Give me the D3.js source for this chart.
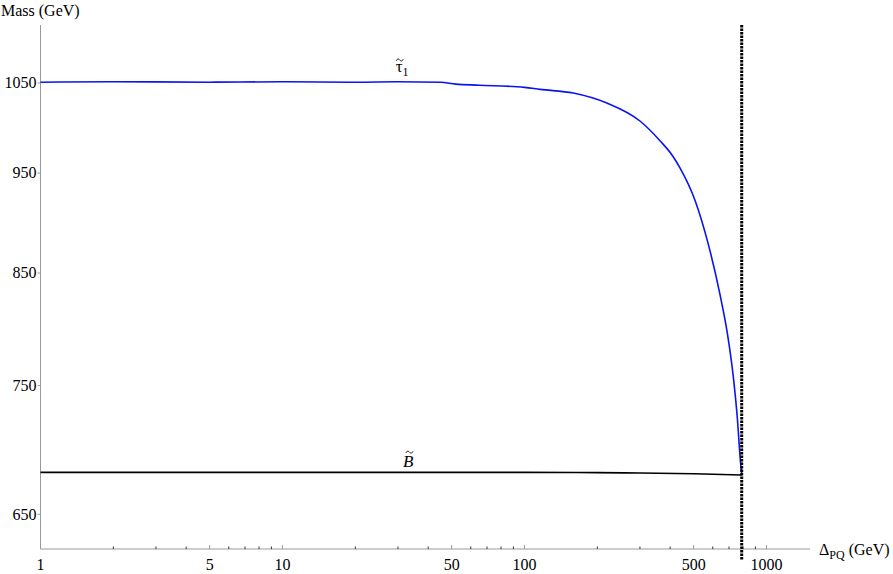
<!DOCTYPE html>
<html>
<head>
<meta charset="utf-8">
<script src="https://cdn.jsdelivr.net/npm/d3@7"></script>
<style>
  body { margin: 0; background: #fff; }
  svg { font-family: "Liberation Serif", "DejaVu Serif", serif; }
  .tick text { font-size: 16px; fill: #000; }
</style>
</head>
<body>
<svg width="893" height="574"></svg>
<script>
// x: Delta_PQ (GeV), y: mass (GeV)
var stauX = [1, 2, 5, 10, 20, 30, 45, 52, 65, 100, 116, 159, 219, 300, 363, 411, 439, 506, 573, 643, 689, 729, 757, 782, 790];
var stauY = [1051, 1051.5, 1051, 1051.5, 1051, 1051.5, 1051, 1048.7, 1047.5, 1045, 1042.6, 1038.4, 1026.9, 1006.6, 984.8, 967.7, 955.5, 922, 879, 829.6, 795, 757.7, 724.5, 687.8, 680];
var binoX = [1, 10, 100, 200, 300, 500, 790];
var binoY = [681, 681, 681, 680.8, 680.5, 680, 679];
var pqLimit = 790;
var xTicks = [1, 5, 10, 50, 100, 500, 1000];
var yTicks = [650, 750, 850, 950, 1050];

var svg = d3.select("svg");

var x = d3.scaleLog().domain([1, 1513]).range([40.5, 810]),
    y = d3.scaleLog().domain([625.4, 1120]).range([549, 25]);

// minor log ticks
var minor = [];
for (var dec = 1; dec <= 1000; dec *= 10) {
  for (var m = 2; m <= 9; m++) {
    if (m != 5 && dec * m < 1513) minor.push(dec * m);
  }
}

var axisColor = "#9a9a9a";

// x axis
var gx = svg.append("g").attr("transform", "translate(0,549)");
gx.append("line").attr("x1", 40.5).attr("x2", 810).attr("stroke", axisColor);
gx.selectAll(".minor").data(minor).enter().append("line")
  .attr("x1", function(d){return x(d);}).attr("x2", function(d){return x(d);})
  .attr("y1", 0).attr("y2", -2.5).attr("stroke", "#333");
var xt = gx.selectAll(".tick").data(xTicks).enter().append("g")
  .attr("class", "tick")
  .attr("transform", function(d){return "translate(" + x(d) + ",0)";});
xt.append("line").attr("y1", 0).attr("y2", -4).attr("stroke", axisColor);
xt.append("text").attr("y", 21).attr("text-anchor", "middle").text(function(d){return d;});

// y axis
var gy = svg.append("g").attr("transform", "translate(40.5,0)");
gy.append("line").attr("y1", 25).attr("y2", 549).attr("stroke", axisColor);
var yt = gy.selectAll(".tick").data(yTicks).enter().append("g")
  .attr("class", "tick")
  .attr("transform", function(d){return "translate(0," + y(d) + ")";});
yt.append("line").attr("x1", 0).attr("x2", -3).attr("stroke", axisColor);
yt.append("text").attr("x", -4).attr("dy", "0.33em").attr("text-anchor", "end").text(function(d){return d;});

// axis titles
svg.append("text").attr("x", 1).attr("y", 16).style("font-size", "16px").text("Mass (GeV)");
var xl = svg.append("text").attr("x", 819).attr("y", 555).style("font-size", "16px");
xl.append("tspan").text("Δ");
xl.append("tspan").attr("dy", 4).style("font-size", "12px").text("PQ");
xl.append("tspan").attr("dy", -4).text(" (GeV)");

// lines
var line = d3.line()
  .x(function(d){return x(d[0]);})
  .y(function(d){return y(d[1]);})
  .curve(d3.curveMonotoneX);

svg.append("path")
  .datum(binoX.map(function(d, i){return [d, binoY[i]];}))
  .attr("fill", "none").attr("stroke", "#000").attr("stroke-width", 1.6)
  .attr("d", line);

svg.append("path")
  .datum(stauX.map(function(d, i){return [d, stauY[i]];}))
  .attr("fill", "none").attr("stroke", "#0a14f0").attr("stroke-width", 1.6)
  .attr("d", line);

// PQ limit
svg.append("line")
  .attr("x1", x(pqLimit)).attr("x2", x(pqLimit))
  .attr("y1", y(1120)).attr("y2", y(618))
  .attr("stroke", "#000").attr("stroke-width", 3)
  .attr("stroke-dasharray", "2.5,1");

// curve labels, tilde accent drawn as a small path
var tildePath = "M-3.5,0.8 C-2.5,-1.6 -1,-1.2 0,0 S2.5,1.6 3.5,-0.8";

var tx = x(30.5) - 4, ty = y(1063);
var tl = svg.append("text").attr("x", tx).attr("y", ty).style("font-size", "17px");
tl.append("tspan").text("τ");
tl.append("tspan").attr("dy", 4).style("font-size", "12px").text("1");
svg.append("path").attr("d", tildePath)
  .attr("transform", "translate(" + (tx + 4) + "," + (ty - 12) + ")")
  .attr("fill", "none").attr("stroke", "#000").attr("stroke-width", 0.9);

var bx = x(33) - 5, by = y(685);
svg.append("text").attr("x", bx).attr("y", by)
  .style("font-size", "17px").style("font-style", "italic").text("B");
svg.append("path").attr("d", tildePath)
  .attr("transform", "translate(" + (bx + 6.5) + "," + (by - 15) + ")")
  .attr("fill", "none").attr("stroke", "#000").attr("stroke-width", 0.9);
</script>
</body>
</html>
